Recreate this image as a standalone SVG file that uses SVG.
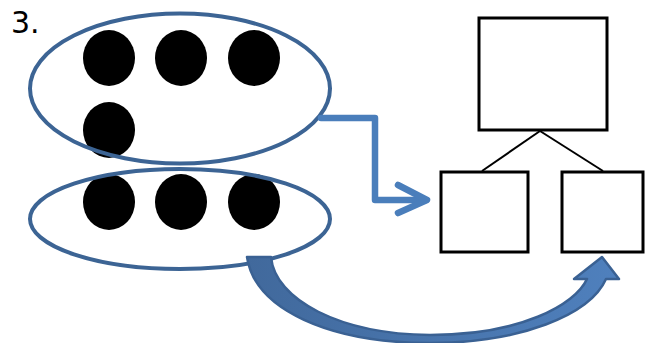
<svg xmlns="http://www.w3.org/2000/svg" width="647" height="343" viewBox="0 0 647 343">
<defs>
<style>
.dot{fill:#000}
.grp{fill:none;stroke:#3c6494;stroke-width:4}
.box{fill:#fff;stroke:#000;stroke-width:3}
.link{fill:none;stroke:#000;stroke-width:2}
.elbow{fill:none;stroke:#4a7ebb;stroke-width:6.5;stroke-linejoin:round;stroke-linecap:round}
.lbl{font-family:"DejaVu Sans",sans-serif;font-size:30px;fill:#000}
</style>
<linearGradient id="cg" x1="247" y1="0" x2="619" y2="0" gradientUnits="userSpaceOnUse">
<stop offset="0" stop-color="#41699c"/>
<stop offset="1" stop-color="#4f80bd"/>
</linearGradient>
</defs>
<rect width="647" height="343" fill="#fff"/>
<text class="lbl" x="11" y="33">3.</text>
<g id="dots">
<ellipse class="dot" cx="109" cy="58" rx="26" ry="28"/>
<ellipse class="dot" cx="181" cy="58" rx="26" ry="28"/>
<ellipse class="dot" cx="254" cy="58" rx="26" ry="28"/>
<ellipse class="dot" cx="109" cy="130" rx="26" ry="28"/>
<ellipse class="dot" cx="109" cy="202" rx="26" ry="28"/>
<ellipse class="dot" cx="181" cy="202" rx="26" ry="28"/>
<ellipse class="dot" cx="254" cy="202" rx="26" ry="28"/>
</g>
<g id="group-top"><ellipse class="grp" cx="180" cy="88.5" rx="150" ry="75"/></g>
<g id="group-bottom"><ellipse class="grp" cx="180" cy="219" rx="150" ry="50"/></g>
<g id="box-top"><rect class="box" x="479" y="18" width="128" height="112"/></g>
<g id="box-left"><rect class="box" x="441" y="172" width="87" height="80"/></g>
<g id="box-right"><rect class="box" x="562" y="172" width="81" height="80"/></g>
<g id="connectors">
<line class="link" x1="540" y1="131" x2="482" y2="171"/>
<line class="link" x1="540" y1="131" x2="603" y2="171"/>
<polyline class="elbow" points="321,118 375,118 375,200 426,200"/>
<polyline class="elbow" points="398,185 427,200 398,213"/>
<path d="M247,257 L271,257 C275,300 340,334 430,335 C520,335 575,305 587,279 L574,279 L602,257 L619,279 L606,279 C590,315 520,343 430,343 C330,343 255,310 247,257 Z" fill="url(#cg)" stroke="#3a6193" stroke-width="2.5" stroke-linejoin="round"/>
</g>
</svg>
